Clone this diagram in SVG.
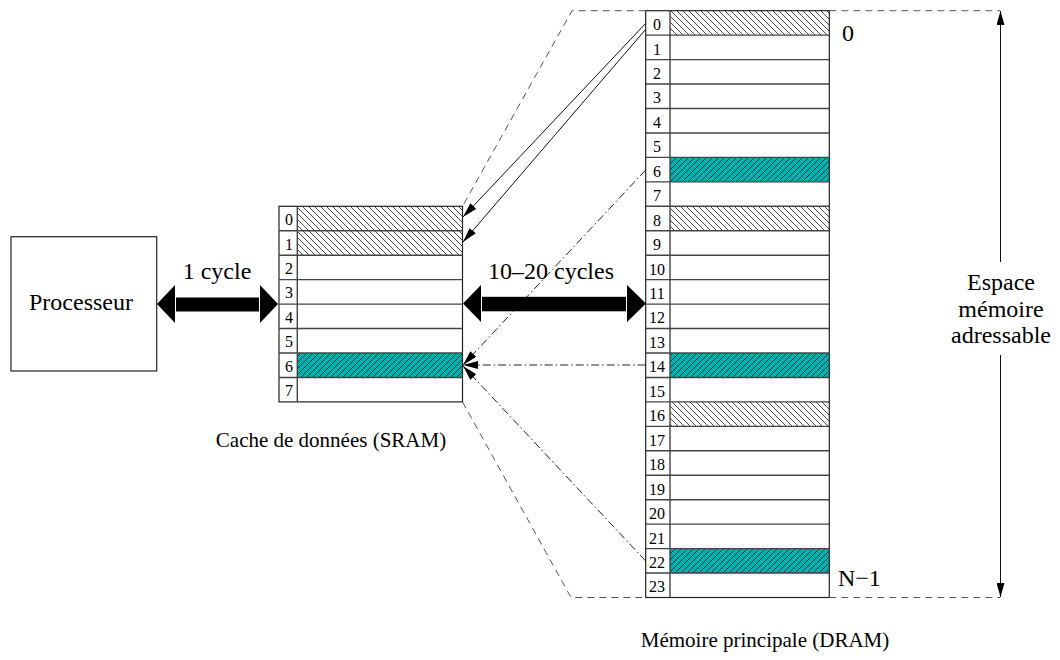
<svg xmlns="http://www.w3.org/2000/svg" width="1060" height="660" viewBox="0 0 1060 660" font-family="'Liberation Serif', 'DejaVu Serif', serif">
<style>
text{font-family:'Liberation Serif','DejaVu Serif',serif;fill:#000}
.lbl{font-size:24px}
.idx{font-size:16px;text-anchor:middle}
.cap{font-size:21px}
.box{fill:none;stroke:#222;stroke-width:1.2}
.sep{stroke:#444;stroke-width:1.4}
.dash{fill:none;stroke:#555;stroke-width:1;stroke-dasharray:7,5}
.dd{fill:none;stroke:#222;stroke-width:1;stroke-dasharray:8,3,1.5,3}
.thin{fill:none;stroke:#111;stroke-width:1}
</style>
<defs>
<pattern id="hb" width="6" height="6" patternUnits="userSpaceOnUse">
<rect width="6" height="6" fill="#fff"/>
<path d="M0,0 L6,6 M-1,5 L1,7 M5,-1 L7,1" stroke="#000" stroke-width="0.7"/>
</pattern>
<pattern id="ht" width="6" height="6" patternUnits="userSpaceOnUse">
<rect width="6" height="6" fill="#00b0b0"/>
<path d="M0,6 L6,0 M-1,1 L1,-1 M5,7 L7,5" stroke="#000" stroke-width="0.7"/>
</pattern>
<marker id="ah" viewBox="0 0 15 8" markerWidth="15" markerHeight="8" refX="15" refY="4" orient="auto" markerUnits="userSpaceOnUse">
<path d="M0,0 L15,4 L0,8 z" fill="#000"/>
</marker>
<marker id="av" viewBox="0 0 14 8" markerWidth="14" markerHeight="8" refX="14" refY="4" orient="auto" markerUnits="userSpaceOnUse">
<path d="M0,0 L14,4 L0,8 z" fill="#000"/>
</marker>
</defs>

<g id="processor">
<rect x="11" y="236.7" width="145.7" height="134.3" class="box"/>
<text x="81" y="310" class="lbl" text-anchor="middle">Processeur</text>
</g>

<g id="cache">
<rect x="297.3" y="206.3" width="165.2" height="48.9" fill="url(#hb)"/>
<rect x="297.3" y="353" width="165.2" height="24.45" fill="url(#ht)"/>
<rect x="279" y="206.3" width="183.5" height="195.6" class="box"/>
<line x1="297.3" y1="206.3" x2="297.3" y2="401.9" class="sep"/>
<g class="sep">
<line x1="279" y1="230.75" x2="462.5" y2="230.75"/>
<line x1="279" y1="255.2" x2="462.5" y2="255.2"/>
<line x1="279" y1="279.65" x2="462.5" y2="279.65"/>
<line x1="279" y1="304.1" x2="462.5" y2="304.1"/>
<line x1="279" y1="328.55" x2="462.5" y2="328.55"/>
<line x1="279" y1="353" x2="462.5" y2="353"/>
<line x1="279" y1="377.45" x2="462.5" y2="377.45"/>
</g>
<text class="idx" x="289" y="225">0</text>
<text class="idx" x="289" y="249.5">1</text>
<text class="idx" x="289" y="274">2</text>
<text class="idx" x="289" y="298.4">3</text>
<text class="idx" x="289" y="322.9">4</text>
<text class="idx" x="289" y="347.3">5</text>
<text class="idx" x="289" y="371.8">6</text>
<text class="idx" x="289" y="396.2">7</text>
<text x="331" y="447" class="cap" text-anchor="middle">Cache de données (SRAM)</text>
</g>

<g id="dram">
<rect x="670" y="10.7" width="159.3" height="24.45" fill="url(#hb)"/>
<rect x="670" y="206.3" width="159.3" height="24.45" fill="url(#hb)"/>
<rect x="670" y="401.9" width="159.3" height="24.45" fill="url(#hb)"/>
<rect x="670" y="157.4" width="159.3" height="24.45" fill="url(#ht)"/>
<rect x="670" y="353" width="159.3" height="24.45" fill="url(#ht)"/>
<rect x="670" y="548.6" width="159.3" height="24.45" fill="url(#ht)"/>
<rect x="645.7" y="10.7" width="183.6" height="586.8" class="box"/>
<line x1="670" y1="10.7" x2="670" y2="597.5" class="sep"/>
<g class="sep">
<line x1="645.7" y1="35.15" x2="829.3" y2="35.15"/>
<line x1="645.7" y1="59.6" x2="829.3" y2="59.6"/>
<line x1="645.7" y1="84.05" x2="829.3" y2="84.05"/>
<line x1="645.7" y1="108.5" x2="829.3" y2="108.5"/>
<line x1="645.7" y1="132.95" x2="829.3" y2="132.95"/>
<line x1="645.7" y1="157.4" x2="829.3" y2="157.4"/>
<line x1="645.7" y1="181.85" x2="829.3" y2="181.85"/>
<line x1="645.7" y1="206.3" x2="829.3" y2="206.3"/>
<line x1="645.7" y1="230.75" x2="829.3" y2="230.75"/>
<line x1="645.7" y1="255.2" x2="829.3" y2="255.2"/>
<line x1="645.7" y1="279.65" x2="829.3" y2="279.65"/>
<line x1="645.7" y1="304.1" x2="829.3" y2="304.1"/>
<line x1="645.7" y1="328.55" x2="829.3" y2="328.55"/>
<line x1="645.7" y1="353" x2="829.3" y2="353"/>
<line x1="645.7" y1="377.45" x2="829.3" y2="377.45"/>
<line x1="645.7" y1="401.9" x2="829.3" y2="401.9"/>
<line x1="645.7" y1="426.35" x2="829.3" y2="426.35"/>
<line x1="645.7" y1="450.8" x2="829.3" y2="450.8"/>
<line x1="645.7" y1="475.25" x2="829.3" y2="475.25"/>
<line x1="645.7" y1="499.7" x2="829.3" y2="499.7"/>
<line x1="645.7" y1="524.15" x2="829.3" y2="524.15"/>
<line x1="645.7" y1="548.6" x2="829.3" y2="548.6"/>
<line x1="645.7" y1="573.05" x2="829.3" y2="573.05"/>
</g>
<text class="idx" x="657" y="30">0</text>
<text class="idx" x="657" y="54.5">1</text>
<text class="idx" x="657" y="78.9">2</text>
<text class="idx" x="657" y="103.4">3</text>
<text class="idx" x="657" y="127.8">4</text>
<text class="idx" x="657" y="152.3">5</text>
<text class="idx" x="657" y="176.7">6</text>
<text class="idx" x="657" y="201.2">7</text>
<text class="idx" x="657" y="225.6">8</text>
<text class="idx" x="657" y="250.1">9</text>
<text class="idx" x="657" y="274.5">10</text>
<text class="idx" x="657" y="299">11</text>
<text class="idx" x="657" y="323.4">12</text>
<text class="idx" x="657" y="347.9">13</text>
<text class="idx" x="657" y="372.3">14</text>
<text class="idx" x="657" y="396.8">15</text>
<text class="idx" x="657" y="421.2">16</text>
<text class="idx" x="657" y="445.7">17</text>
<text class="idx" x="657" y="470.1">18</text>
<text class="idx" x="657" y="494.6">19</text>
<text class="idx" x="657" y="519">20</text>
<text class="idx" x="657" y="543.5">21</text>
<text class="idx" x="657" y="567.9">22</text>
<text class="idx" x="657" y="592.4">23</text>
<text x="842" y="41" class="lbl">0</text>
<text x="838" y="586" class="lbl">N−1</text>
<text x="765" y="647" class="cap" text-anchor="middle">Mémoire principale (DRAM)</text>
</g>

<g id="connectors">
<path class="dash" d="M645.7,10.7 L572,10.7 L462.5,206.3"/>
<path class="dash" d="M462.5,401.9 L571,597.5 L645.7,597.5"/>
<path class="dash" d="M829.3,10.7 L1000,10.7"/>
<path class="dash" d="M829.3,597.5 L1000,597.5"/>
<line class="thin" x1="646" y1="23" x2="463" y2="217" marker-end="url(#ah)"/>
<line class="thin" x1="646" y1="29" x2="463" y2="242" marker-end="url(#ah)"/>
<line class="dd" x1="645.7" y1="170" x2="463" y2="365" marker-end="url(#ah)"/>
<line class="dd" x1="645.7" y1="365" x2="463" y2="365" marker-end="url(#ah)"/>
<line class="dd" x1="645.7" y1="561" x2="463" y2="366" marker-end="url(#ah)"/>
<g fill="#000">
<polygon points="157,304 175,285 175,323"/>
<rect x="176" y="297.5" width="83" height="14"/>
<polygon points="278,304 260,285 260,323"/>
<polygon points="463,303.5 481,285 481,322"/>
<rect x="482" y="296.8" width="144" height="14.5"/>
<polygon points="646,303.5 627,285 627,322"/>
</g>
<text x="217" y="279" class="lbl" text-anchor="middle">1 cycle</text>
<text x="551" y="279" class="lbl" text-anchor="middle">10–20 cycles</text>
<line class="thin" x1="1000.5" y1="262" x2="1000.5" y2="11" marker-end="url(#av)"/>
<line class="thin" x1="1000.5" y1="355" x2="1000.5" y2="597" marker-end="url(#av)"/>
<text x="1001" y="290" class="lbl" text-anchor="middle">Espace</text>
<text x="1001" y="317" class="lbl" text-anchor="middle">mémoire</text>
<text x="1001" y="343" class="lbl" text-anchor="middle">adressable</text>
</g>
</svg>
